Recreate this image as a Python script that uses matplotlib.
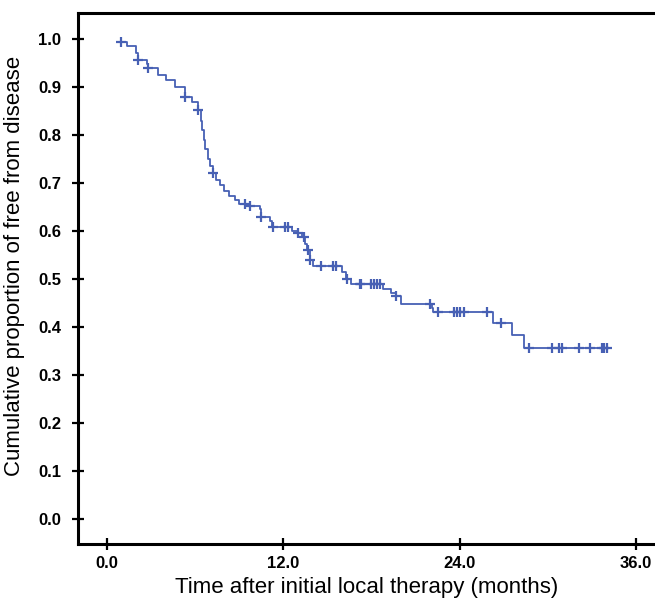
import matplotlib
matplotlib.use("Agg")
import matplotlib.pyplot as plt
import numpy as np

# Kaplan-Meier style data (months, cumulative proportion free from disease)
start_time = 0.8
start_surv = 0.993
event_times = [1.35, 2.0, 2.1, 2.7, 2.8, 3.5, 4.0, 4.6, 5.3, 5.8, 6.2, 6.4, 6.5, 6.6, 6.7,
               6.85, 7.0, 7.2, 7.4, 7.7, 8.0, 8.3, 8.7, 9.0, 9.7, 10.4, 10.5, 11.1, 11.2,
               12.6, 13.0, 13.3, 13.5, 13.6, 13.8, 14.0, 16.0, 16.3, 16.6, 18.8, 19.3, 19.7,
               20.0, 22.1, 22.2, 26.3, 27.6, 28.4]
event_surv = [0.985, 0.97, 0.957, 0.948, 0.939, 0.925, 0.915, 0.90, 0.878, 0.868, 0.853, 0.83,
              0.81, 0.79, 0.77, 0.75, 0.735, 0.72, 0.706, 0.695, 0.684, 0.673, 0.665, 0.657,
              0.651, 0.645, 0.63, 0.62, 0.609, 0.60, 0.595, 0.588, 0.573, 0.56, 0.54, 0.527,
              0.515, 0.50, 0.49, 0.48, 0.47, 0.465, 0.448, 0.44, 0.432, 0.408, 0.383, 0.356]
end_time = 34.0
censor_times = [0.95, 2.1, 2.8, 5.3, 6.2, 7.25, 9.4, 9.75, 10.5, 11.3, 12.1, 12.3, 13.0, 13.4,
                13.65, 13.85, 14.6, 15.4, 15.6, 16.35, 17.2, 17.3, 18.0, 18.2, 18.4, 18.6,
                19.7, 22.0, 22.5, 23.6, 23.8, 24.0, 24.3, 25.9, 26.8, 28.7, 30.3, 30.8,
                31.0, 32.1, 32.9, 33.7, 33.8, 34.0]

xticks = [0, 12, 24, 36]
xticklabels = ["0.0", "12.0", "24.0", "36.0"]
yticks = [0.0, 0.1, 0.2, 0.3, 0.4, 0.5, 0.6, 0.7, 0.8, 0.9, 1.0]
yticklabels = [f"{v:.1f}" for v in yticks]

plt.rcParams['font.family'] = ['Liberation Sans', 'DejaVu Sans']

W, H = 655, 599
fig = plt.figure(figsize=(W / 100, H / 100), dpi=100)
left_px, right_px, top_px, bottom_px = 78, 655, 13, 544
ax = fig.add_axes([left_px / W, 1 - bottom_px / H, (right_px - left_px) / W, (bottom_px - top_px) / H])

ts = np.array([start_time] + event_times + [end_time])
ss = np.array([start_surv] + event_surv + [event_surv[-1]])
color = "#4760b4"
ax.step(ts, ss, where="post", color=color, lw=1.3)

# censor marks placed on the curve
idx = np.searchsorted(ts, np.array(censor_times), side="right") - 1
cy = ss[idx]
ax.plot(censor_times, cy, ls="none", marker="+", ms=7, mew=1.6, color=color)

ax.set_xlim(-1.97, 37.3)
ax.set_ylim(-0.052, 1.054)
ax.set_xticks(xticks)
ax.set_xticklabels(xticklabels)
ax.set_yticks(yticks)
ax.set_yticklabels(yticklabels)

for s in ["left", "bottom", "top"]:
    ax.spines[s].set_linewidth(2.2)
    ax.spines[s].set_color("black")
ax.spines["right"].set_visible(False)

ax.tick_params(axis="both", direction="inout", length=8, width=1.6, labelsize=12)
ax.tick_params(axis="y", pad=8)
ax.tick_params(axis="x", pad=5)
for lab in ax.get_xticklabels() + ax.get_yticklabels():
    lab.set_fontweight("bold")

ax.set_xlabel("Time after initial local therapy (months)", fontsize=16, labelpad=4)
ax.set_ylabel("Cumulative proportion of free from disease", fontsize=16)
ax.yaxis.set_label_coords(-0.092, 0.524)

fig.savefig("out.png", dpi=100)
